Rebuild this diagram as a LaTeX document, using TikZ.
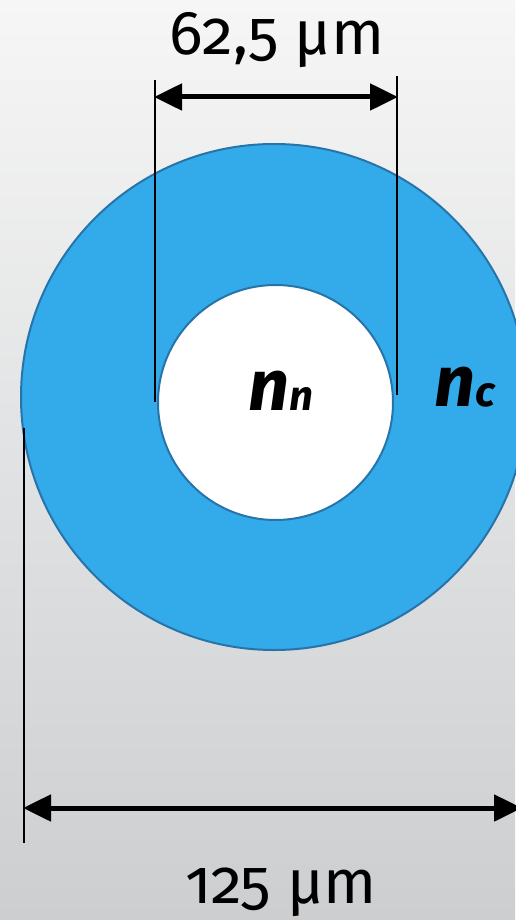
\documentclass[tikz,border=0pt]{standalone}
\usepackage{fontspec}
\setmainfont[Numbers=OldStyle]{Fira Sans}
\usetikzlibrary{arrows.meta}
\definecolor{bgtop}{RGB}{246,246,246}
\definecolor{bgbot}{RGB}{204,206,208}
\definecolor{cladfill}{RGB}{51,170,234}
\definecolor{cladline}{RGB}{38,116,170}
\tikzset{
  dimline/.style={line width=2pt, black},
  dimarrow/.style={line width=5pt, black, {Triangle[length=28pt,width=26pt]}-{Triangle[length=28pt,width=26pt]}, shorten <=-1pt, shorten >=-1pt},
  dimtext/.style={font=\fontsize{62}{66}\selectfont, inner sep=0pt, anchor=base},
  idx/.style={font=\fontsize{72}{76}\bfseries\itshape\selectfont, inner sep=0pt, anchor=base}
}
\begin{document}
\begin{tikzpicture}[x=1pt,y=-1pt]
\useasboundingbox (0,0) rectangle (515,920);
\shade[top color=bgtop, bottom color=bgbot] (0,0) rectangle (515,920);
\node[circle, draw=cladline, line width=2pt, fill=cladfill, minimum size=506pt, inner sep=0pt] (clad) at (274,397) {};
\node[circle, draw=cladline, line width=2pt, fill=white, minimum size=235pt, inner sep=0pt] (core) at (275.5,402.5) {};
\node[idx] (nn) at (281,410) {n\raisebox{0pt}{\fontsize{42}{44}\selectfont n}};
\node[idx] (nc) at (465,406) {n\raisebox{0pt}{\fontsize{42}{44}\selectfont c}};
% top dimension
\coordinate (t1) at (155,80);
\coordinate (t2) at (155,402);
\coordinate (t3) at (397,76);
\coordinate (t4) at (397,395);
\draw[dimline] (t1) -- (t2);
\draw[dimline] (t3) -- (t4);
\coordinate (ta) at (155,97);
\coordinate (tb) at (397,97);
\draw[dimarrow] (ta) -- (tb);
\node[dimtext] (toplabel) at (277,55) {62,5 µm};
% bottom dimension
\coordinate (b1) at (24,428);
\coordinate (b2) at (24,843);
\draw[dimline] (b1) -- (b2);
\coordinate (ba) at (24,808);
\coordinate (bb) at (521,808);
\draw[dimarrow] (ba) -- (bb);
\node[dimtext] (botlabel) at (281,903) {125 µm};
\end{tikzpicture}
\end{document}
